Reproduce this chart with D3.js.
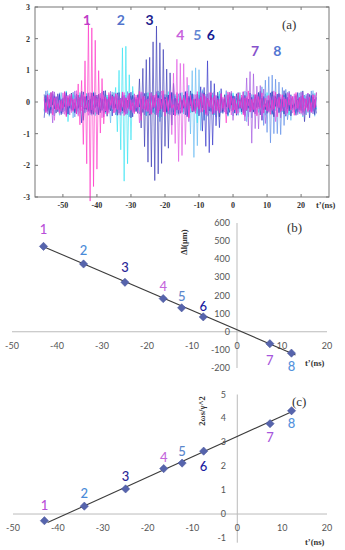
<!DOCTYPE html>
<html>
<head>
<meta charset="utf-8">
<script src="https://cdn.jsdelivr.net/npm/d3@7"></script>
<style>
  body { margin: 0; background: #fff; }
  svg { display: block; }
</style>
</head>
<body>
<svg id="chart" width="345" height="550"></svg>
<script>
// ---- panel (a): signals, 0.5 ns sampling ----
const xTicksA = [-50, -40, -30, -20, -10, 0, 10, 20];
const yTicksA = [3, 2, 1, 0, -1, -2, -3];
const signalStart = -55.5;
const signalEnd = 24.5;
const noiseBase = [
  0.15, -0.32, 0.22, -0.18, 0.3, -0.41, 0.12, -0.25, -0.05, -0.36, 0.05, -0.2, 0.33, -0.47, 0.18, -0.12, 0.25, -0.3, 0.1, -0.38,
  0.27, -0.22, 0.08, -0.44, -0.1, -0.15, 0.2, -0.33, 0.14, -0.27, 0.35, -0.62, 0.09, -0.18, 0.24, -0.29, 0.16, -0.4, 0.3, -0.1,
  0.19, -0.35, 0.26, -0.23, 0.07, -0.31, 0.32, -0.43, 0.13, -0.2, 0.28, -0.26, -0.02, -0.37, 0.22, -0.16, 0.34, -0.58, 0.17, -0.24,
  0.06, -0.3, 0.29, -0.39, 0.2, -0.14, 0.25, -0.34, 0.1, -0.21, 0.36, -0.45, 0.15, -0.28, 0.23, -0.19, -0.08, -0.42, 0.3, -0.25,
  0.18, -0.33, 0.12, -0.17, 0.27, -0.5, 0.21, -0.29, 0.09, -0.36, 0.33, -0.22, 0.16, -0.31, 0.24, -0.4, 0.11, -0.15, 0.3, -0.38,
  0.2, -0.27, 0.07, -0.34, 0.26, -0.2, 0.14, -0.66, 0.32, -0.23, 0.19, -0.3, 0.1, -0.37, 0.28, -0.18, 0.22, -0.41, 0.13, -0.26,
  0.35, -0.32, 0.08, -0.24, 0.25, -0.44, 0.17, -0.19, 0.29, -0.35, 0.12, -0.28, 0.21, -0.39, 0.06, -0.22, 0.31, -0.47, 0.15, -0.3,
  0.23, -0.16, 0.1, -0.33, 0.27, -0.25, 0.18, -0.42, 0.3, -0.2, 0.14, -0.36, 0.21, -0.27, 0.09, -0.31
];
const noiseShift = [0, 17, 34, 51, 68, 85, 102, 119];
const burstStart = [-45.5, -35.5, -27.5, -19.5, -14, -10.5, 2, 7.5];
const burst1 = [0.3, -0.5, 0.6, -0.9, 1.4, -1.8, 2.3, -2.8, 2.2, -2.4, 1.6, -1.5, 0.9, -0.8, 0.5, -0.4];
const burst2 = [0.3, -0.4, 0.7, -1.0, 1.3, -1.8, 2.1, -2.7, 1.9, -2.2, 1.2, -1.3, 0.7, -0.6, 0.4, -0.3];
const burst3 = [0.4, -0.6, 0.9, -1.1, 1.1, -1.5, 1.3, -1.9, 1.6, -2.1, 2.2, -2.0, 1.8, -1.6, 1.4, -1.2, 0.9, -0.8, 0.6, -0.5, 0.4];
const burst4 = [0.3, -0.5, 0.8, -1.2, 1.1, -1.6, 1.7, -2.0, 1.5, -1.9, 1.6, -1.4, 1.0, -0.8, 0.6, -0.4];
const burst5 = [0.3, -0.6, 0.8, -1.1, 1.3, -1.9, 1.4, -1.6, 1.2, -1.2, 0.8, -0.7, 0.5, -0.4];
const burst6 = [0.3, -0.5, 0.7, -1.0, 0.9, -1.3, 1.45, -1.8, 1.0, -1.5, 0.85, -1.1, 0.8, -0.9, 0.6, -0.6, 0.4, -0.4];
const burst7 = [0.3, -0.5, 0.6, -0.8, 0.9, -1.0, 1.3, -1.4, 1.1, -1.2, 0.95, -1.0, 0.8, -0.8, 0.6, -0.6, 0.4, -0.5];
const burst8 = [0.3, -0.5, 0.7, -0.9, 1.0, -1.2, 1.2, -1.4, 1.0, -1.3, 1.1, -1.2, 0.9, -1.1, 0.8, -1.0, 0.6, -0.7, 0.5, -0.5];
const bursts = [burst1, burst2, burst3, burst4, burst5, burst6, burst7, burst8];
const pulseNames = ['1', '2', '3', '4', '5', '6', '7', '8'];
const labelTimeA = [-43, -33, -24.5, -15.5, -10.5, -6.5, 6.5, 13];
const labelAmpA = [2.6, 2.6, 2.6, 2.12, 2.12, 2.12, 1.63, 1.63];

// ---- panels (b) and (c) ----
const xTicksBC = [-50, -40, -30, -20, -10, 0, 10, 20];
const yTicksB = [-200, -100, 0, 100, 200, 300, 400, 500, 600];
const yTicksC = [-1, 0, 1, 2, 3, 4, 5];
const tPulse = [-43.0, -34.1, -24.9, -16.4, -12.3, -7.5, 7.3, 12.1];
const deltaL = [471, 374, 273, 183, 132, 82, -66, -118];
const omegaRatio = [-0.28, 0.33, 1.05, 1.9, 2.13, 2.63, 3.78, 4.32];
const fitB = [[-43.5, 475], [13, -128]];
const fitC = [[-42.3, -0.36], [12.5, 4.31]];

// styling
const traceColors = ['#ff2fc6', '#33e2f2', '#3434b4', '#e052e2', '#62b8f2', '#2f2fc8', '#a052e0', '#5a8ae8'];
const labelColors = ['#c03ec8', '#5274cc', '#1e1e8e', '#c862dc', '#6284d2', '#141a92', '#8652cc', '#5276d2'];
const labelColorsBC = ['#b84ed8', '#4a8ad8', '#2a2696', '#c466dc', '#5a86cc', '#1a1aa0', '#a656dc', '#5492dc'];
const labelOffB = [-17, -14, -15, -13, -12, -11, 16, 13];
const labelOffC = [-16, -13, -13, -12, -12, 15, 13, 12];

const svg = d3.select('#chart');
const serif = '"Liberation Serif", "DejaVu Serif", serif';
const sans = 'Lato, "Liberation Sans", sans-serif';

// ================= (a) =================
const ax = d3.scaleLinear().domain([-58.2, 28.2]).range([35, 329]);
const ay = d3.scaleLinear().domain([-3, 3]).range([197, 7]);
const gA = svg.append('g');

const nSamples = Math.round((signalEnd - signalStart) / 0.5) + 1;
const sampleIdx = d3.range(nSamples);

const traces = bursts.map((b, k) => {
    const i0 = Math.round((burstStart[k] - signalStart) / 0.5);
    return sampleIdx.map(i => {
        const n = noiseBase[(i + noiseShift[k]) % noiseBase.length];
        const j = i - i0;
        const extra = j >= 0 && j < b.length ? b[j] : 0;
        return { t: signalStart + i * 0.5, v: n + extra };
    });
});

const traceLine = d3.line().x(d => ax(d.t)).y(d => ay(d.v));
const drawOrder = [4, 7, 1, 5, 2, 6, 3, 0];
gA.selectAll('path.trace')
    .data(drawOrder)
    .enter()
    .append('path')
    .attr('class', 'trace')
    .attr('d', k => traceLine(traces[k]))
    .attr('fill', 'none')
    .attr('stroke', k => traceColors[k])
    .attr('stroke-width', 0.8)
    .attr('stroke-opacity', 0.8);

// frame with inward ticks
gA.append('rect')
    .attr('x', 35).attr('y', 7).attr('width', 294).attr('height', 190)
    .attr('fill', 'none').attr('stroke', '#777').attr('stroke-width', 1);

const tickA = gA.append('g').attr('stroke', '#777').attr('stroke-width', 1);
xTicksA.forEach(t => {
    tickA.append('line').attr('x1', ax(t)).attr('x2', ax(t)).attr('y1', 197).attr('y2', 194);
    tickA.append('line').attr('x1', ax(t)).attr('x2', ax(t)).attr('y1', 7).attr('y2', 10);
});
yTicksA.forEach(v => {
    tickA.append('line').attr('x1', 35).attr('x2', 38).attr('y1', ay(v)).attr('y2', ay(v));
    tickA.append('line').attr('x1', 329).attr('x2', 326).attr('y1', ay(v)).attr('y2', ay(v));
});

gA.selectAll('text.xt')
    .data(xTicksA)
    .enter()
    .append('text')
    .attr('x', d => ax(d))
    .attr('y', 208)
    .attr('text-anchor', 'middle')
    .style('font', 'bold 8px ' + serif)
    .attr('fill', '#333')
    .text(d => d);

gA.selectAll('text.yt')
    .data(yTicksA)
    .enter()
    .append('text')
    .attr('x', 30)
    .attr('y', d => ay(d) + 3)
    .attr('text-anchor', 'end')
    .style('font', 'bold 8px ' + serif)
    .attr('fill', '#333')
    .text(d => d);

gA.append('text')
    .attr('x', 316).attr('y', 208)
    .style('font', 'bold 8.5px ' + serif).attr('fill', '#333')
    .text('t\u2019(ns)');

gA.append('text')
    .attr('x', 282).attr('y', 29)
    .style('font', '13px ' + serif).attr('fill', '#333')
    .text('(a)');

gA.selectAll('text.pl')
    .data(pulseNames)
    .enter()
    .append('text')
    .attr('x', (d, i) => ax(labelTimeA[i]))
    .attr('y', (d, i) => ay(labelAmpA[i]))
    .attr('text-anchor', 'middle')
    .attr('dominant-baseline', 'central')
    .style('font', 'bold 14px ' + sans)
    .attr('fill', (d, i) => labelColors[i])
    .text(d => d);

// ================= (b) and (c) =================
function scatterPanel(opts) {
    const { x, y, values, fit, yTicks, xLabelY, yLabelX, yTitle, yTitleX, yTitleY, tag, tagX, tagY, unitY, labelOff } = opts;
    const g = svg.append('g');

    g.append('line')
        .attr('x1', x.range()[0]).attr('x2', x.range()[1])
        .attr('y1', y(0)).attr('y2', y(0))
        .attr('stroke', '#bbb').attr('stroke-width', 1);
    g.append('line')
        .attr('x1', x(0)).attr('x2', x(0))
        .attr('y1', y.range()[1]).attr('y2', y.range()[0])
        .attr('stroke', '#bbb').attr('stroke-width', 1);

    g.selectAll('text.xt')
        .data(xTicksBC)
        .enter()
        .append('text')
        .attr('x', d => x(d))
        .attr('y', xLabelY)
        .attr('text-anchor', 'middle')
        .style('font', '9px ' + sans)
        .attr('fill', '#555')
        .text(d => d);

    g.selectAll('text.yt')
        .data(yTicks)
        .enter()
        .append('text')
        .attr('x', yLabelX)
        .attr('y', d => y(d) + 3)
        .attr('text-anchor', 'end')
        .style('font', '9px ' + sans)
        .attr('fill', '#555')
        .text(d => d);

    g.append('text')
        .attr('transform', 'translate(' + yTitleX + ',' + yTitleY + ') rotate(-90)')
        .attr('text-anchor', 'middle')
        .style('font', 'bold 8.5px ' + serif)
        .attr('fill', '#333')
        .text(yTitle);

    g.append('text')
        .attr('x', tagX).attr('y', tagY)
        .style('font', '13px ' + serif).attr('fill', '#333')
        .text(tag);

    g.append('text')
        .attr('x', 305).attr('y', unitY)
        .style('font', 'bold 8.5px ' + serif).attr('fill', '#333')
        .text('t\u2019(ns)');

    g.append('line')
        .attr('x1', x(fit[0][0])).attr('y1', y(fit[0][1]))
        .attr('x2', x(fit[1][0])).attr('y2', y(fit[1][1]))
        .attr('stroke', '#3c3c3c').attr('stroke-width', 1.1);

    const diamond = d3.symbol().type(d3.symbolSquare).size(34);
    g.selectAll('path.pt')
        .data(values)
        .enter()
        .append('path')
        .attr('d', diamond)
        .attr('transform', (d, i) => 'translate(' + x(tPulse[i]) + ',' + y(d) + ') rotate(45)')
        .attr('fill', '#5664ac')
        .attr('stroke', '#48549c')
        .attr('stroke-width', 0.5);

    g.selectAll('text.pl')
        .data(pulseNames)
        .enter()
        .append('text')
        .attr('x', (d, i) => x(tPulse[i]))
        .attr('y', (d, i) => y(values[i]) + labelOff[i])
        .attr('text-anchor', 'middle')
        .attr('dominant-baseline', 'central')
        .style('font', '500 13px ' + sans)
        .attr('fill', (d, i) => labelColorsBC[i])
        .text(d => d);
}

scatterPanel({
    x: d3.scaleLinear().domain([-50, 20]).range([12, 327]),
    y: d3.scaleLinear().domain([-200, 600]).range([368, 223]),
    values: deltaL, fit: fitB, yTicks: yTicksB,
    xLabelY: 349, yLabelX: 230,
    yTitle: '\u0394l(\u03bcm)', yTitleX: 187, yTitleY: 242,
    tag: '(b)', tagX: 287, tagY: 232, unitY: 366, labelOff: labelOffB
});

scatterPanel({
    x: d3.scaleLinear().domain([-50, 20]).range([13, 327]),
    y: d3.scaleLinear().domain([-1.2, 5]).range([542.7, 394.5]),
    values: omegaRatio, fit: fitC, yTicks: yTicksC,
    xLabelY: 531, yLabelX: 226,
    yTitle: '2\u03c9s/\u03b3^2', yTitleX: 205, yTitleY: 411,
    tag: '(c)', tagX: 292, tagY: 406, unitY: 545, labelOff: labelOffC
});
</script>
</body>
</html>
